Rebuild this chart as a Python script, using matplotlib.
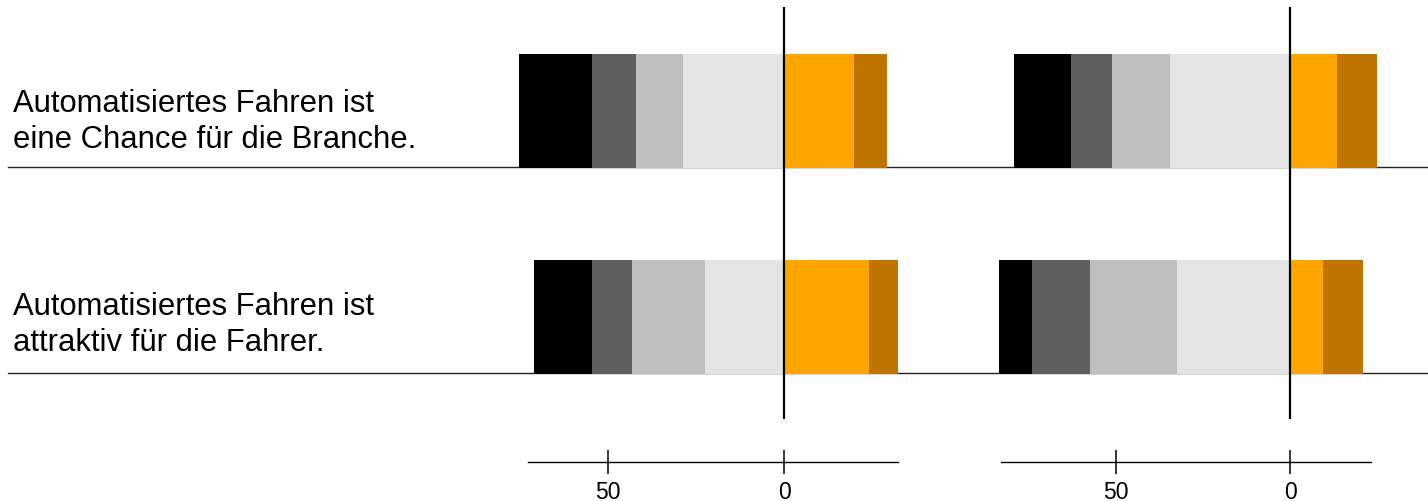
import matplotlib
matplotlib.use("Agg")
import matplotlib.pyplot as plt
from matplotlib.lines import Line2D
import matplotlib.transforms as mtransforms

plt.rcParams['font.family'] = ['Liberation Sans', 'DejaVu Sans']

# ---- data ----
categories = ["Automatisiertes Fahren ist\neine Chance für die Branche.",
              "Automatisiertes Fahren ist\nattraktiv für die Fahrer."]

# negative side (stacked outward from zero): very light grey, light grey, dark grey, black
left_vlgrey = [28.7, 22.5]
left_lgrey = [13.4, 20.7]
left_dgrey = [12.5, 11.4]
left_black = [20.7, 16.5]
# positive side: orange, dark orange
left_orange = [20.0, 24.1]
left_dorange = [9.2, 8.3]

right_vlgrey = [34.4, 32.4]
right_lgrey = [16.7, 24.9]
right_dgrey = [11.6, 16.7]
right_black = [16.5, 9.4]
right_orange = [13.5, 9.4]
right_dorange = [11.4, 11.5]

tick_values = [-50, 0]
tick_labels = ["50", "0"]

neg_colors = ["#e4e4e4", "#bfbfbf", "#5f5f5f", "#000000"]
pos_colors = ["#ffa500", "#bf7400"]

W, H = 1428, 502
fig = plt.figure(figsize=(W / 100, H / 100), dpi=100)

def px_axes(x0, x1, ytop, ybot):
    return fig.add_axes([x0 / W, (H - ybot) / H, (x1 - x0) / W, (ybot - ytop) / H])

axL = px_axes(527.7, 898.3, 8, 420)
axR = px_axes(1000.7, 1370.7, 8, 420)
axL.set_xlim(-72.9, 32.5)
axR.set_xlim(-83.0, 23.1)

rows = list(range(len(categories)))
bar_h = 0.553

def draw_panel(ax, neg_series, pos_series):
    ax.set_zorder(1)
    ax.set_facecolor('none')
    ax.set_ylim(1.5, -0.5)
    for i in rows:
        start = 0.0
        for vals, c in zip(neg_series, neg_colors):
            ax.barh(i + 0.005, -vals[i], left=start, height=bar_h, color=c,
                    linewidth=0, clip_on=False, zorder=2)
            start -= vals[i]
        start = 0.0
        for vals, c in zip(pos_series, pos_colors):
            ax.barh(i + 0.005, vals[i], left=start, height=bar_h, color=c,
                    linewidth=0, clip_on=False, zorder=2)
            start += vals[i]
    ax.axvline(0, color='black', lw=1.6, zorder=3)
    for s in ['top', 'left', 'right']:
        ax.spines[s].set_visible(False)
    ax.spines['bottom'].set_position(('outward', 31.2))
    ax.spines['bottom'].set_linewidth(1.0)
    ax.set_yticks([])
    ax.set_xticks(tick_values)
    ax.set_xticklabels(tick_labels)
    ax.tick_params(axis='x', direction='inout', length=17.3, width=1.1,
                   labelsize=16.5, pad=4)

draw_panel(axL, [left_vlgrey, left_lgrey, left_dgrey, left_black],
           [left_orange, left_dorange])
draw_panel(axR, [right_vlgrey, right_lgrey, right_dgrey, right_black],
           [right_orange, right_dorange])

trans = mtransforms.blended_transform_factory(fig.transFigure, axL.transData)
text_offsets = [0.178, 0.165]
for i, label in enumerate(categories):
    fig.lines.append(Line2D([8 / W, 1.0], [i + 0.275, i + 0.275], transform=trans,
                            color='#222222', lw=1.0, zorder=0.5))
    fig.text(13 / W, i + text_offsets[i], label, transform=trans, fontsize=22.3,
             va='baseline', ha='left', color='black', linespacing=1.25)

fig.savefig("out.png", dpi=100)
